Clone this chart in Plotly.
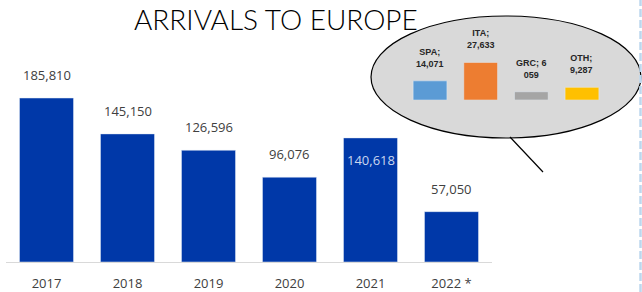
import plotly.graph_objects as go

# Main chart data
years = ["2017", "2018", "2019", "2020", "2021", "2022 *"]
arrivals = [185810, 145150, 126596, 96076, 140618, 57050]
arrival_labels = ["185,810", "145,150", "126,596", "96,076", "140,618", "57,050"]

# Breakdown 2022 data
countries = ["SPA", "ITA", "GRC", "OTH"]
country_values = [14071, 27633, 6059, 9287]
country_labels = ["SPA;<br>14,071", "ITA;<br>27,633", "GRC; 6<br>059", "OTH;<br>9,287"]
country_colors = ["#5b9bd5", "#ed7d31", "#a5a5a5", "#ffc000"]

W, H = 642, 292
ML, MR, MT, MB = 6, 0, 0, 30
PW, PH = W - ML - MR, H - MT - MB

def fx(x):
    return (x - ML) / PW

def fy(y):
    return (H - MB - y) / PH

fig = go.Figure()

fig.add_trace(go.Bar(
    x=years, y=arrivals, marker_color="#0038a8", xaxis="x", yaxis="y",
    showlegend=False, hoverinfo="skip",
))

fig.add_trace(go.Bar(
    x=countries, y=country_values, marker_color=country_colors,
    xaxis="x2", yaxis="y2", showlegend=False, hoverinfo="skip",
))

annotations = []
for i, (yr, v, lab) in enumerate(zip(years, arrivals, arrival_labels)):
    if yr == "2021":
        annotations.append(dict(x=i, y=v, xref="x", yref="y", text=lab, showarrow=False,
                                yanchor="top", yshift=-11,
                                font=dict(family="Open Sans", size=13, color="#c9d6ef")))
    else:
        annotations.append(dict(x=i, y=v, xref="x", yref="y", text=lab, showarrow=False,
                                yanchor="bottom", yshift=12,
                                font=dict(family="Open Sans", size=13, color="#404040")))

for i, (c, v, lab) in enumerate(zip(countries, country_values, country_labels)):
    annotations.append(dict(x=i, y=v, xref="x2", yref="y2", text=lab, showarrow=False,
                            yanchor="bottom", yshift=10,
                            font=dict(family="Liberation Sans", size=9, color="#262626",
                                      weight="bold")))

annotations.append(dict(x=fx(276), y=fy(0), xref="paper", yref="paper",
                        text="ARRIVALS TO EUROPE", showarrow=False,
                        xanchor="center", yanchor="top",
                        font=dict(family="Lato", size=28, color="#000000", weight=300)))

shapes = [
    dict(type="circle", xref="paper", yref="paper",
         x0=fx(371), x1=fx(641), y0=fy(138), y1=fy(16),
         fillcolor="#d9d9d9", line=dict(color="#000000", width=1.2), layer="below"),
    dict(type="line", xref="paper", yref="paper",
         x0=fx(510), y0=fy(137), x1=fx(543), y1=fy(172),
         line=dict(color="#000000", width=1.2)),
    dict(type="line", xref="paper", yref="paper",
         x0=fx(640.5), x1=fx(640.5), y0=fy(292), y1=fy(0),
         line=dict(color="#bdd7ee", width=2.5, dash="8px,3px")),
]

main_scale = 164 / 185810
inner_scale = 1.36e-3

fig.update_layout(
    width=W, height=H,
    margin=dict(l=ML, r=MR, t=MT, b=MB, autoexpand=False),
    paper_bgcolor="white", plot_bgcolor="rgba(0,0,0,0)",
    bargap=0.333,
    xaxis=dict(type="category", domain=[0, fx(492)], range=[-0.5, len(years) - 0.5],
               showline=True, linecolor="#d9d9d9", automargin=False,
               linewidth=1, ticks="outside", ticklen=9, tickcolor="rgba(0,0,0,0)",
               showgrid=False, zeroline=False,
               tickfont=dict(family="Open Sans", size=13, color="#404040")),
    yaxis=dict(domain=[0, 1], range=[0, PH / main_scale], visible=False, showgrid=False),
    xaxis2=dict(type="category", domain=[fx(404.7), fx(607.3)],
                range=[-0.5, len(countries) - 0.5], anchor="y2", visible=False,
                showgrid=False),
    yaxis2=dict(domain=[fy(100), fy(30)], range=[0, 70 / inner_scale], anchor="x2",
                visible=False, showgrid=False),
    annotations=annotations,
    shapes=shapes,
)

fig.write_html("out.html", config={"displayModeBar": False},
               post_script="document.body.style.margin='0';document.body.style.padding='0';")
